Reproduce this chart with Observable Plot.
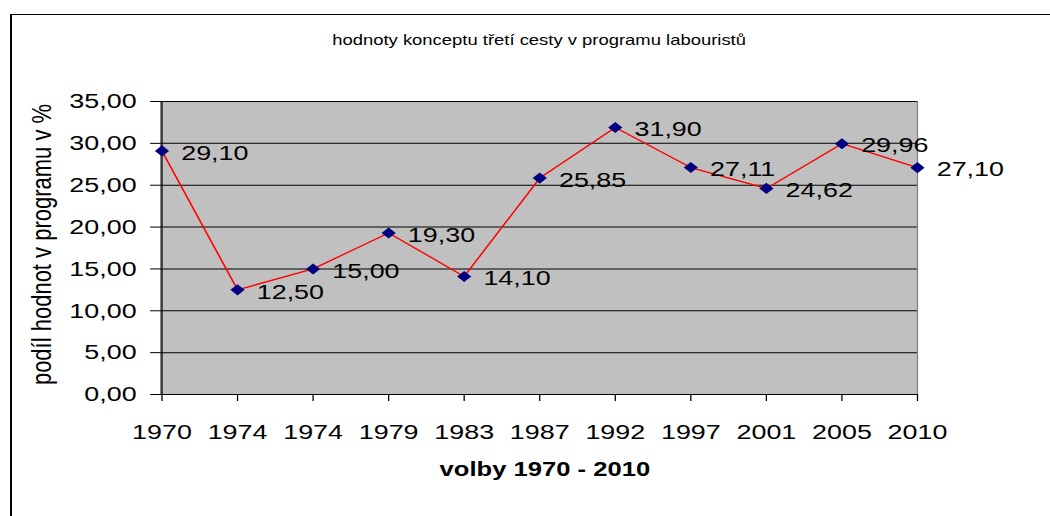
<!DOCTYPE html>
<html>
<head>
<meta charset="utf-8">
<script src="https://cdn.jsdelivr.net/npm/d3@7"></script>
<script src="https://cdn.jsdelivr.net/npm/@observablehq/plot@0.6"></script>
<style>
  html, body { margin: 0; padding: 0; background: #fff; }
  #wrap { position: relative; width: 1050px; height: 516px; overflow: hidden; background: #fff; }
  #border { position: absolute; left: 10px; top: 14px; width: 1100px; height: 600px;
            border-top: 1px solid #000; border-left: 2px solid #000; }
  #chart { position: absolute; left: 0; top: 0; transform-origin: 0 0; transform: scaleX(1.2805); }
</style>
</head>
<body>
<div id="wrap">
  <div id="border"></div>
  <div id="chart"></div>
</div>
<script>
const years = ["1970", "1974", "1974", "1979", "1983", "1987", "1992", "1997", "2001", "2005", "2010"];
const values = [29.10, 12.50, 15.00, 19.30, 14.10, 25.85, 31.90, 27.11, 24.62, 29.96, 27.10];
const yTicks = [0, 5, 10, 15, 20, 25, 30, 35];
const titleText = "hodnoty konceptu třetí cesty v programu labouristů";
const xTitle = "volby 1970 - 2010";
const yTitle = "podíl hodnot v programu v %";

const data = years.map((y, i) => ({i, year: y, value: values[i]}));
const fmt = v => v.toFixed(2).replace(".", ",");

const chart = Plot.plot({
  width: 820,
  height: 516,
  marginLeft: 125,
  marginRight: 104,
  marginTop: 101,
  marginBottom: 122,
  style: {fontFamily: "'Liberation Sans', Arial, sans-serif", fontSize: "21px", color: "#000", background: "transparent", overflow: "visible"},
  x: {type: "point", domain: d3.range(years.length), padding: 0, label: null},
  y: {domain: [0, 35], label: null},
  marks: [
    Plot.frame({fill: "#C0C0C0", stroke: "#808080"}),
    Plot.ruleY(yTicks, {stroke: "#000", strokeWidth: 1}),
    Plot.ruleX([0], {stroke: "#000", strokeWidth: 1}),
    Plot.axisY({ticks: yTicks, tickFormat: fmt, tickSize: 7.8, tickPadding: 11, fontSize: 21, stroke: "#000"}),
    Plot.axisX({tickFormat: i => years[i], tickSize: 7, tickPadding: 23, fontSize: 21, stroke: "#000"}),
    Plot.line(data, {x: "i", y: "value", stroke: "#ff0000", strokeWidth: 1.3}),
    Plot.dot(data, {x: "i", y: "value", symbol: "diamond2", r: 5, fill: "#000080", stroke: "none"}),
    Plot.text(data, {x: "i", y: "value", text: d => fmt(d.value), textAnchor: "start", dx: 15, dy: 2, fontSize: 21, fill: "#000"}),
    Plot.text([titleText], {frameAnchor: "top", textAnchor: "middle", lineAnchor: "middle", dy: -61, fontSize: 14.4, fill: "#000"}),
    Plot.text([xTitle], {frameAnchor: "bottom", textAnchor: "middle", lineAnchor: "middle", dx: 4.5, dy: 75, fontSize: 20, fontWeight: "bold", fill: "#000"}),
    Plot.text([yTitle], {frameAnchor: "left", textAnchor: "middle", lineAnchor: "middle", dx: -93, dy: -3.5, rotate: -90, fontSize: 22, fill: "#000"})
  ]
});
document.getElementById("chart").appendChild(chart);
</script>
</body>
</html>
